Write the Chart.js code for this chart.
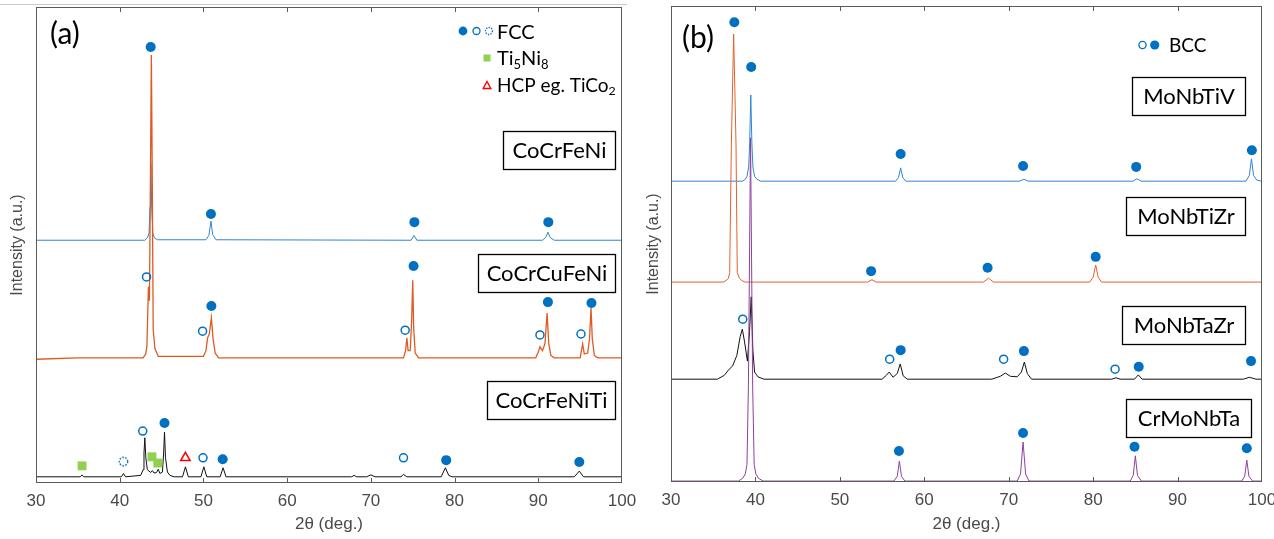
<!DOCTYPE html>
<html>
<head>
<meta charset="utf-8">
<script src="https://cdn.jsdelivr.net/npm/chart.js@4.4.0/dist/chart.umd.min.js"></script>
<style>
  body { margin: 0; background: #fff; width: 1274px; height: 539px; overflow: hidden; position: relative; }
  canvas { position: absolute; top: 0; }
  #ca { left: 0; }
  #cb { left: 636px; }
  #topline { position: absolute; left: 0; top: 4px; width: 627px; border-top: 1px solid #c8c8c8; }
</style>
</head>
<body>
<div id="topline"></div>
<canvas id="ca" width="636" height="539"></canvas>
<canvas id="cb" width="638" height="539"></canvas>
<script>
// ---- data: [2theta, intensity above the pattern's baseline] ----
const xTicks = [30, 40, 50, 60, 70, 80, 90, 100];

// panel (a)
const namesA = ['CoCrFeNi', 'CoCrCuFeNi', 'CoCrFeNiTi'];
const offsetsA = [51.0, 26.3, 1.3];
const coCrFeNi = [[30,0],[43.0,0],[43.3,0.5],[43.5,1.5],[43.62,7],[43.72,16.2],[43.82,7],[43.95,1.5],[44.15,0.5],[44.5,0.1],[50.3,0.1],[50.65,1],[50.9,4],[51.1,1.2],[51.5,0.1],[74.8,0],[75.15,1],[75.5,0],[90.5,0],[90.9,0.6],[91.15,1.7],[91.4,0.6],[91.9,0],[100,0]];
const coCrCuFeNi = [[30,-0.3],[35,0],[42.8,0],[43.1,0.8],[43.25,2.5],[43.33,8],[43.43,14.9],[43.55,12],[43.68,40],[43.78,63.6],[43.88,40],[44.0,6],[44.2,2],[44.6,0.3],[50.0,0.3],[50.3,1.5],[50.5,4.2],[50.7,5],[50.95,8.4],[51.15,4],[51.4,1],[51.8,0],[73.9,0],[74.15,1.5],[74.3,4.2],[74.45,1.5],[74.7,1.5],[74.88,8],[75.0,16.3],[75.12,6],[75.3,1],[75.7,0],[89.7,0],[90.0,1.2],[90.2,2.3],[90.5,1.5],[90.8,3],[91.05,9.4],[91.25,3],[91.5,0.5],[91.9,0],[95.0,0],[95.3,2.9],[95.5,0.8],[95.9,1],[96.12,4],[96.3,10.5],[96.45,4],[96.7,0.5],[97.1,0],[100,0]];
const coCrFeNiTi = [[30,0],[35.3,0],[35.5,0.4],[35.7,0],[40.2,0],[40.45,0.7],[40.7,0],[42.5,0.3],[42.8,1.5],[42.9,5],[43.0,8.2],[43.12,4],[43.3,1.5],[43.7,0.9],[43.9,1.3],[44.1,0.8],[44.4,0.9],[44.6,1.6],[44.8,0.7],[45.1,1],[45.25,5],[45.35,9.4],[45.47,4],[45.7,1],[46.0,0.3],[46.5,0],[47.5,0],[47.85,2.1],[48.2,0],[49.7,0],[50.05,2.1],[50.4,0],[52.0,0],[52.35,1.9],[52.7,0],[67.7,0],[68,0.3],[68.3,0],[69.5,0],[70,0.4],[70.5,0],[73.6,0],[73.9,0.5],[74.3,0],[78.4,0],[78.9,1.9],[79.3,0.3],[79.7,0],[94.3,0],[94.9,1.2],[95.4,0],[100,0]];

// phase markers (a): [2theta, intensity]
const fccFilledA = [[43.7,91.6],[50.9,56.5],[75.2,54.8],[91.2,54.8],[75.1,45.6],[50.95,37.2],[91.15,38.0],[96.35,37.8],[45.35,12.6],[52.3,5.0],[79.0,4.8],[94.9,4.4]];
const fccOpenA = [[43.2,43.3],[49.9,31.9],[74.1,32.1],[90.2,31.1],[95.1,31.3],[42.75,10.9],[49.95,5.3],[73.9,5.3]];
const fccDashedA = [[40.45,4.5]];
const ti5ni8A = [[35.5,3.6],[43.85,5.5],[44.55,4.2]];
const hcpA = [[47.85,5.3]];

// panel (b)
const namesB = ['MoNbTiV', 'MoNbTiZr', 'MoNbTaZr', 'CrMoNbTa'];
const offsetsB = [63.2, 42.0, 21.6, 0.2];
const moNbTiV = [[30,0],[38.5,0],[38.8,0.4],[39.0,1],[39.2,3],[39.32,8],[39.45,18.1],[39.58,8],[39.7,3],[39.9,1],[40.2,0.4],[40.6,0],[56.6,0],[56.95,0.8],[57.2,2.8],[57.45,0.8],[57.8,0],[71.3,0],[71.8,0.4],[72.3,0],[84.7,0],[85.2,0.5],[85.7,0],[98.1,0],[98.5,1.2],[98.75,4.7],[99.0,1.2],[99.4,0.2],[100,0]];
const moNbTiZr = [[30,0],[36.2,0],[36.6,0.4],[36.8,0.8],[36.95,2],[37.15,29],[37.42,52.1],[37.7,29],[37.85,2],[38.1,0.8],[38.4,0.3],[38.8,0],[53.3,0],[53.8,0.5],[54.3,0],[67.0,0],[67.6,0.8],[68.2,0],[79.6,0],[80.0,1],[80.3,3.6],[80.6,1],[81.0,0],[100,0]];
const moNbTaZr = [[30,0],[35.5,0],[36.3,0.8],[36.8,1.9],[37.3,2.8],[37.8,5],[38.2,9],[38.45,10.5],[38.7,8],[39.05,3.8],[39.3,10],[39.5,17.3],[39.7,6],[39.9,1.5],[40.3,0.5],[41,0],[55.0,0],[55.5,0.8],[55.85,1.5],[56.3,0.4],[56.8,1.2],[57.15,3.2],[57.5,0.7],[58,0],[68.0,0],[69.0,0.6],[69.6,1.3],[70.2,0.6],[71.0,0.5],[71.5,1.5],[71.85,3.6],[72.2,1.2],[72.7,0],[82.2,0],[82.7,0.3],[83.2,0],[84.9,0],[85.35,0.9],[85.8,0],[97.8,0],[98.5,0.4],[99.3,0],[100,0]];
const crMoNbTa = [[30,0],[38.0,0],[38.5,0.6],[38.8,1.5],[39.0,3.5],[39.17,20],[39.42,72.1],[39.67,20],[39.85,3.5],[40.05,1.5],[40.35,0.6],[40.9,0],[56.4,0],[56.8,1],[57.05,4.2],[57.3,1],[57.7,0],[71.0,0],[71.4,1.5],[71.7,8.2],[72.0,1.5],[72.4,0],[84.4,0],[84.75,1.2],[85.0,5.3],[85.25,1.2],[85.7,0],[97.6,0],[97.95,1],[98.2,4.4],[98.45,1],[98.9,0],[100,0]];

// phase markers (b)
const bccFilledB = [[37.5,96.6],[39.5,87.2],[57.2,68.9],[71.7,66.4],[85.1,66.2],[98.8,69.7],[53.7,44.3],[67.5,45.0],[80.3,47.3],[57.2,27.7],[71.8,27.5],[85.4,24.2],[98.7,25.4],[57.0,6.5],[71.7,10.3],[84.9,7.4],[98.2,7.1]];
const bccOpenB = [[38.5,34.2],[55.9,25.8],[69.4,25.8],[82.6,23.7]];

// ---- styles ----
const MBLUE = '#0070C0';
const tickFont = { family: 'Liberation Sans, Arial, sans-serif', size: 17 };
const yTitleFont = { family: 'Liberation Sans, Arial, sans-serif', size: 16 };
const boxFont = '22px Lato, sans-serif';

function dashedCircle(r, color) {
  const c = document.createElement('canvas');
  const s = Math.ceil(r * 2 + 4);
  c.width = c.height = s;
  const g = c.getContext('2d');
  g.strokeStyle = color; g.lineWidth = 1.4; g.setLineDash([1.6, 1.4]);
  g.beginPath(); g.arc(s / 2, s / 2, r, 0, Math.PI * 2); g.stroke();
  return c;
}

const markerStyles = {
  filled: { pointStyle: 'circle', pointRadius: 5, backgroundColor: MBLUE, borderColor: MBLUE, borderWidth: 0 },
  open:   { pointStyle: 'circle', pointRadius: 4, backgroundColor: 'rgba(0,0,0,0)', borderColor: MBLUE, borderWidth: 1.5 },
  dashed: { pointStyle: dashedCircle(4.2, MBLUE), pointRadius: 5 },
  square: { pointStyle: 'rect', pointRadius: 6.3, backgroundColor: '#92D050', borderColor: '#92D050', borderWidth: 0 },
  tri:    { pointStyle: 'triangle', pointRadius: 5.5, backgroundColor: 'rgba(0,0,0,0)', borderColor: '#FF0000', borderWidth: 1.5 }
};

function markerSet(points, style) {
  return Object.assign({ type: 'scatter', data: points.map(([x, y]) => ({ x, y })), showLine: false }, markerStyles[style]);
}
function lineSet(points, offset, color, width) {
  return { type: 'line', data: points.map(([x, y]) => ({ x, y: y + offset })), borderColor: color,
           borderWidth: width, pointRadius: 0, tension: 0, fill: false };
}

// rich text with subscripts: parts = [[text, isSub], ...]
function drawRich(ctx, parts, x, y, size) {
  parts.forEach(([t, sub]) => {
    ctx.font = (sub ? size * 0.65 : size) + 'px Lato, sans-serif';
    ctx.fillText(t, x, sub ? y + size * 0.28 : y);
    x += ctx.measureText(t).width;
  });
}

const framePlugin = {
  id: 'frame',
  afterDraw(chart, args, o) {
    const { ctx, chartArea: a } = chart;
    const x = chart.scales.x;
    ctx.save();
    ctx.strokeStyle = '#5a5a5a'; ctx.lineWidth = 1;
    ctx.strokeRect(a.left + 0.5, a.top + 0.5, a.right - a.left - 1, a.bottom - a.top - 1);
    x.ticks.forEach(t => {
      if (t.value <= 30 || t.value >= 100) return;
      const px = Math.round(x.getPixelForValue(t.value)) + 0.5;
      ctx.beginPath();
      ctx.moveTo(px, a.bottom); ctx.lineTo(px, a.bottom - 5);
      ctx.moveTo(px, a.top); ctx.lineTo(px, a.top + 5);
      ctx.stroke();
    });
    // panel tag
    ctx.fillStyle = '#000'; ctx.textBaseline = 'middle'; ctx.textAlign = 'left';
    ctx.font = '30px Lato, sans-serif';
    ctx.fillText(o.tag, o.tagPos[0], o.tagPos[1]);
    // sample name boxes
    ctx.font = boxFont; ctx.textAlign = 'center';
    o.names.forEach((name, i) => {
      const [l, t, w, h] = o.boxes[i];
      ctx.fillStyle = '#fff'; ctx.fillRect(l, t, w, h);
      ctx.strokeStyle = '#000'; ctx.lineWidth = 1.3; ctx.strokeRect(l + 0.5, t + 0.5, w, h);
      ctx.fillStyle = '#000'; ctx.fillText(name, l + w / 2 + 0.5, t + h / 2 + 1);
    });
    ctx.textAlign = 'left';
    o.legend(ctx);
    ctx.restore();
  }
};

function circle(ctx, cx, cy, r, fill, dash) {
  ctx.beginPath(); ctx.arc(cx, cy, r, 0, Math.PI * 2);
  if (fill) { ctx.fillStyle = MBLUE; ctx.fill(); }
  else { ctx.strokeStyle = MBLUE; ctx.lineWidth = 1.3; ctx.setLineDash(dash ? [1.4, 1.2] : []); ctx.stroke(); ctx.setLineDash([]); }
}

function legendA(ctx) {
  circle(ctx, 463, 31, 4.4, true);
  circle(ctx, 476.5, 31, 3.5, false);
  circle(ctx, 489, 31, 3.5, false, true);
  ctx.fillStyle = '#000';
  drawRich(ctx, [['FCC', false]], 497, 33, 20);
  ctx.fillStyle = '#92D050'; ctx.fillRect(483.5, 54.5, 7, 7);
  ctx.fillStyle = '#000';
  drawRich(ctx, [['Ti', false], ['5', true], ['Ni', false], ['8', true]], 497, 59, 20);
  ctx.strokeStyle = '#FF0000'; ctx.lineWidth = 1.4;
  ctx.beginPath(); ctx.moveTo(487, 81.5); ctx.lineTo(490.8, 88.5); ctx.lineTo(483.2, 88.5); ctx.closePath(); ctx.stroke();
  ctx.fillStyle = '#000';
  drawRich(ctx, [['HCP eg. TiCo', false], ['2', true]], 497, 86, 19);
}

function legendB(ctx) {
  circle(ctx, 506.5, 45, 3.6, false);
  circle(ctx, 518.7, 45, 4.6, true);
  ctx.fillStyle = '#000';
  drawRich(ctx, [['BCC', false]], 533, 46, 19);
}

function makeChart(id, datasets, layout, frame) {
  return new Chart(document.getElementById(id), {
    type: 'line',
    data: { datasets },
    plugins: [framePlugin],
    options: {
      responsive: false, animation: false, events: [],
      layout: { padding: layout.padding },
      plugins: { legend: { display: false }, tooltip: { enabled: false }, frame },
      scales: {
        x: {
          type: 'linear', min: 30, max: 100,
          afterBuildTicks(s) { s.ticks = xTicks.map(v => ({ value: v })); },
          ticks: { font: tickFont, color: '#4a4a4a', padding: 8, maxRotation: 0, autoSkip: false },
          grid: { display: false, drawTicks: false }, border: { display: false },
          title: { display: true, text: '2θ (deg.)', font: tickFont, color: '#4a4a4a', padding: { top: 0, bottom: 4 } },
          afterFit(s) { s.height = layout.xHeight; s.paddingLeft = 0; s.paddingRight = 0; }
        },
        y: {
          min: 0, max: 100,
          ticks: { display: false }, grid: { display: false, drawTicks: false }, border: { display: false },
          title: { display: true, text: 'Intensity (a.u.)', font: yTitleFont, color: '#4a4a4a', padding: { top: 8, bottom: 0 } },
          afterFit(s) { s.width = layout.yWidth; }
        }
      }
    }
  });
}

makeChart('ca', [
  markerSet(fccFilledA, 'filled'),
  markerSet(fccOpenA, 'open'),
  markerSet(fccDashedA, 'dashed'),
  markerSet(ti5ni8A, 'square'),
  markerSet(hcpA, 'tri'),
  lineSet(coCrFeNiTi, offsetsA[2], '#111111', 1),
  lineSet(coCrCuFeNi, offsetsA[1], '#DF5A22', 1.3),
  lineSet(coCrFeNi, offsetsA[0], '#2F86CF', 1)
], { padding: { left: 0, right: 14, top: 7, bottom: 0 }, xHeight: 56, yWidth: 36 },
{ tag: '(a)', tagPos: [50, 34], names: namesA,
  boxes: [[503, 131, 112, 38], [478, 254, 137, 38], [487, 381, 128, 38]], legend: legendA });

makeChart('cb', [
  markerSet(bccFilledB, 'filled'),
  markerSet(bccOpenB, 'open'),
  lineSet(crMoNbTa, offsetsB[3], '#8E3FA0', 1),
  lineSet(moNbTaZr, offsetsB[2], '#111111', 1),
  lineSet(moNbTiZr, offsetsB[1], '#E2622C', 1),
  lineSet(moNbTiV, offsetsB[0], '#2F86CF', 1)
], { padding: { left: 0, right: 12, top: 6, bottom: 0 }, xHeight: 57, yWidth: 35 },
{ tag: '(b)', tagPos: [46, 38], names: namesB,
  boxes: [[496, 77, 113, 38], [490, 197, 119, 38], [486, 306, 123, 38], [490, 399, 125, 38]], legend: legendB });
</script>
</body>
</html>
